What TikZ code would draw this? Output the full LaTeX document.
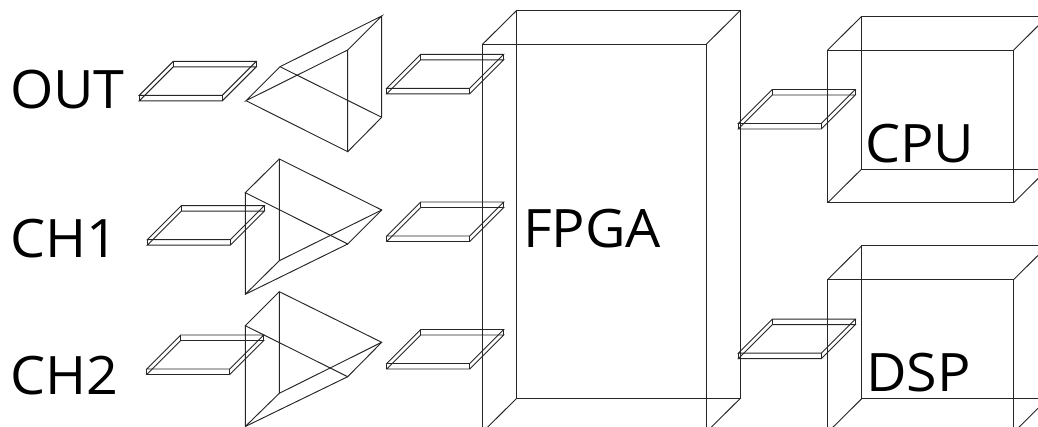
\documentclass[tikz,border=0pt]{standalone}
\usepackage{fontspec}
\setmainfont[FakeStretch=1.05]{Open Sans}
\tikzset{
  wire/.style={line width=0.95pt,line join=miter,draw=black!85},
  lab/.style={inner sep=0pt,outer sep=0pt,anchor=base west,font=\fontsize{53}{60}\selectfont},
}
% plate: front-left top corner
\newcommand{\myplate}[2]{%
  \begin{scope}[shift={(#1,#2)}]
    \draw[wire] (0,0) -- (83,0) -- (117,-34) -- (34,-34) -- cycle;
    \draw[wire] (0,5.5) -- (83,5.5) -- (117,-28.5) -- (34,-28.5) -- cycle;
    \draw[wire] (0,0) -- (0,5.5) (83,0) -- (83,5.5) (117,-34) -- (117,-28.5) (34,-34) -- (34,-28.5);
  \end{scope}}
% box: front x0,y0,x1,y1
\newcommand{\mybox}[4]{%
  \draw[wire] (#1,#2) rectangle (#3,#4);
  \draw[wire] (#1+34,#2-33.7) rectangle (#3+34,#4-33.7);
  \draw[wire] (#1,#2) -- (#1+34,#2-33.7) (#3,#2) -- (#3+34,#2-33.7)
              (#1,#4) -- (#1+34,#4-33.7) (#3,#4) -- (#3+34,#4-33.7);}
\begin{document}
\begin{tikzpicture}[x=1pt,y=-1pt]
\useasboundingbox (0,0) rectangle (1038,427);
\clip (0,0) rectangle (1038,427);
% plates
\myplate{139.3}{95.3}
\myplate{386.7}{88.3}
\myplate{147.3}{239.7}
\myplate{146.7}{369}
\myplate{386.7}{236}
\myplate{386.7}{363.5}
\myplate{738.3}{123.5}
\myplate{738.3}{353.2}
% OUT prism
\coordinate (oa) at (246,100.7);
\coordinate (ob) at (280,66.7);
\coordinate (oc) at (381.7,16);
\coordinate (od) at (347.7,50);
\coordinate (oe) at (381.7,117.3);
\coordinate (of) at (347.7,151.7);
\draw[wire] (oa) -- (ob) -- (oc) -- (od) -- cycle;
\draw[wire] (oa) -- (of) -- (oe) -- (oc);
\draw[wire] (od) -- (of) (ob) -- (oe);
% CH1 prism
\coordinate (pa) at (245.3,192.7);
\coordinate (pb) at (279.3,159);
\coordinate (pc) at (381.7,210);
\coordinate (pd) at (347.7,244);
\coordinate (pe) at (279.3,260.7);
\coordinate (pf) at (245.3,294.3);
\draw[wire] (pa) -- (pb) -- (pc) -- (pd) -- cycle;
\draw[wire] (pa) -- (pf) -- (pd);
\draw[wire] (pf) -- (pe) -- (pc) (pb) -- (pe);
% CH2 prism
\coordinate (qa) at (245.3,325.7);
\coordinate (qb) at (279.3,291.7);
\coordinate (qc) at (381.7,342.3);
\coordinate (qd) at (347.7,376.7);
\coordinate (qe) at (279.3,393.3);
\coordinate (qf) at (245.3,426.5);
\draw[wire] (qa) -- (qb) -- (qc) -- (qd) -- cycle;
\draw[wire] (qa) -- (qf) -- (qd);
\draw[wire] (qf) -- (qe) -- (qc) (qb) -- (qe);
% boxes
\mybox{482.3}{44.5}{706}{432.4}
\mybox{827.7}{50}{1013.7}{202.7}
\mybox{827.7}{279.5}{1013.7}{432.4}
% labels
\node[lab] (out) at (10,109) {OUT};
\node[lab] (ch1) at (10,258) {CH1};
\node[lab] (ch2) at (10,394.5) {CH2};
\node[lab] (fpga) at (523,248) {FPGA};
\node[lab] (cpu) at (865,162.5) {CPU};
\node[lab] (dsp) at (866,391.5) {DSP};
\end{tikzpicture}
\end{document}
